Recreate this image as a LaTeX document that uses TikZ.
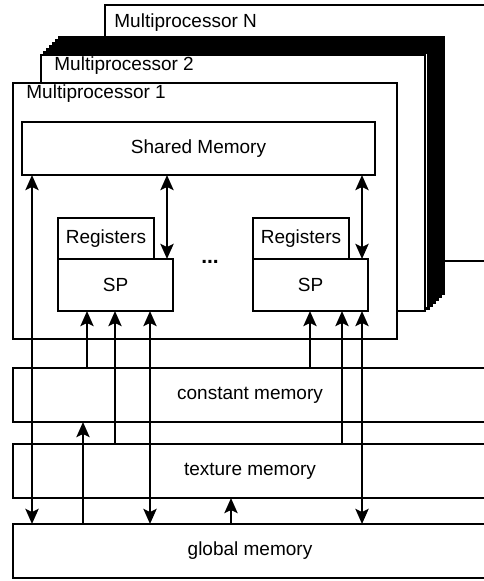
\documentclass[tikz,border=0pt]{standalone}
\usepackage{fontspec}
\setmainfont{Liberation Sans}
\usetikzlibrary{arrows.meta,positioning,calc}
\tikzstyle{cbox}  = [rectangle, draw, line width=2.8pt, inner sep=0pt,
                     outer sep=0pt, anchor=north west, align=center]
\tikzstyle{Bmp}   = [cbox, fill=white, minimum width=384pt, minimum height=256pt]
\tikzstyle{Bstk}  = [Bmp, line width=3.0pt]
\tikzstyle{Bsm}   = [cbox, minimum width=353pt, minimum height=53pt]
\tikzstyle{Breg}  = [cbox, fill=white, minimum width=96pt, minimum height=41pt]
\tikzstyle{Bsp}   = [cbox, fill=white, minimum width=115pt, minimum height=52pt]
\tikzstyle{Bmem}  = [cbox, minimum width=474pt, minimum height=54pt]
\tikzstyle{Blabel}= [anchor=base west, inner sep=0pt]

\begin{document}
\begin{tikzpicture}[x=1pt, y=-1pt, line width=2.8pt,
    >={Stealth[length=15pt,width=13pt,inset=3pt]},
    font=\fontsize{19}{22}\selectfont]
  \useasboundingbox (0,0) rectangle (484,581);
  % multiprocessors, back to front
  \node[Bmp] (mpN) at (105,5) {};
  \foreach \k in {6,...,1}
    \node[Bstk] (stk\k) at (41+3*\k,55-3*\k) {};
  \node[Bmp] (mp2) at (41,55) {};
  \node[Bmp] (mp1) at (13,83) {};
  \node[Blabel] (lblN) at ([shift={(8,22)}]mpN.north west) {Multiprocessor N};
  \node[Blabel] (lbl2) at ([shift={(12,15)}]mp2.north west) {Multiprocessor 2};
  \node[Blabel] (lbl1) at ([shift={(12,15)}]mp1.north west) {Multiprocessor 1};
  % inside multiprocessor 1
  \node[Bsm] (shm) at (22,122) {Shared Memory};
  \node[Breg] (regL) at (58,218) {Registers};
  \node[Bsp] (spL) at (58,259) {SP};
  \node[Breg] (regR) at (253,218) {Registers};
  \node[Bsp] (spR) at (253,259) {SP};
  \node[anchor=base, inner sep=0pt, font=\fontsize{21}{22}\selectfont\bfseries] (dots) at (210,263) {...};
  % device memories
  \node[Bmem] (cmem) at (13,368) {constant memory};
  \node[Bmem] (tmem) at (13,444) {texture memory};
  \node[Bmem] (gmem) at (13,524) {global memory};
  % arrow columns
  \coordinate (c1) at (32,0);
  \coordinate (c2) at (167,0);
  \coordinate (c3) at (362,0);
  \coordinate (c4) at (87,0);
  \coordinate (c5) at (115,0);
  \coordinate (c6) at (150,0);
  \coordinate (c7) at (310,0);
  \coordinate (c8) at (342,0);
  \coordinate (c9) at (83,0);
  \coordinate (c10) at (231,0);
  \draw[<->] (shm.south -| c1) -- (gmem.north -| c1);
  \draw[<->] (shm.south -| c2) -- (spL.north -| c2);
  \draw[<->] (shm.south -| c3) -- (spR.north -| c3);
  \draw[->] (cmem.north -| c4) -- (spL.south -| c4);
  \draw[->] (tmem.north -| c5) -- (spL.south -| c5);
  \draw[<->] (gmem.north -| c6) -- (spL.south -| c6);
  \draw[->] (cmem.north -| c7) -- (spR.south -| c7);
  \draw[->] (tmem.north -| c8) -- (spR.south -| c8);
  \draw[<->] (gmem.north -| c3) -- (spR.south -| c3);
  \draw[->] (gmem.north -| c9) -- (cmem.south -| c9);
  \draw[->] (gmem.north -| c10) -- (tmem.south -| c10);
\end{tikzpicture}
\end{document}
